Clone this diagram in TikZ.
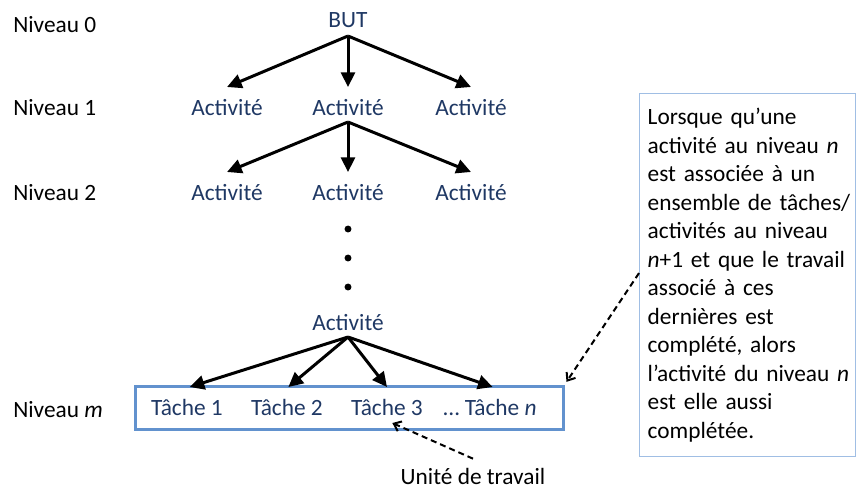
\documentclass[tikz,border=0pt]{standalone}
\usepackage{fontspec}
\setmainfont{Carlito}
\usetikzlibrary{arrows.meta,calc}
\definecolor{navy}{RGB}{31,56,100}
\definecolor{boxblue}{RGB}{98,146,206}
\definecolor{noteblue}{RGB}{160,190,228}
\hfuzz=50pt
\begin{document}
\begin{tikzpicture}[x=0.75pt,y=-0.75pt,
  every node/.style={font=\fontsize{17.5}{21.4}\selectfont},
  lvl/.style={anchor=west, inner sep=0, text=black},
  tree/.style={inner sep=0, text=navy},
  dotnode/.style={circle, fill=black, inner sep=0, minimum size=5.2pt},
  arr/.style={line width=2.25pt, -{Triangle[length=11pt,width=10.5pt]}},
  darr/.style={line width=1.5pt, dash pattern=on 4.5pt off 3pt, -{Straight Barb[length=5pt,width=8pt]}},
  taskbox/.style={draw=boxblue, line width=2.25pt, minimum width=321pt, minimum height=32.25pt, inner sep=0},
  notebox/.style={draw=noteblue, line width=1.1pt, anchor=north west, inner xsep=6pt, text width=150pt,
     minimum height=272pt, align=left, text=black}]
\useasboundingbox (0,0) rectangle (856,490);

% level labels
\node[lvl] (n0) at (13,25) {Niveau 0};
\node[lvl] (n1) at (13,108) {Niveau 1};
\node[lvl] (n2) at (13,193) {Niveau 2};
\node[lvl] (nm) at (13,410) {Niveau \textit{m}};

% tree
\node[tree] (but) at (348,20) {BUT};
\node[tree] (a11) at (227,108) {Activité};
\node[tree] (a12) at (348,108) {Activité};
\node[tree] (a13) at (471,108) {Activité};
\node[tree] (a21) at (227,193) {Activité};
\node[tree] (a22) at (348,193) {Activité};
\node[tree] (a23) at (471,193) {Activité};
\node[dotnode] (d1) at (348,229) {};
\node[dotnode] (d2) at (348,258) {};
\node[dotnode] (d3) at (348,287) {};
\node[tree] (a3) at (348,323) {Activité};

% task box
\node[taskbox] (box) at (349,407.5) {};
\node[tree] (t1) at (187,407) {Tâche 1};
\node[tree] (t2) at (287,407) {Tâche 2};
\node[tree] (t3) at (387,407) {Tâche 3};
\node[tree] (t4) at (490,407) {… Tâche \textit{n}};

% arrows
\draw[arr] ([yshift=-12pt]but.center) -- ([yshift=15.75pt]a11.center);
\draw[arr] ([yshift=-12pt]but.center) -- ([yshift=15.75pt]a12.center);
\draw[arr] ([yshift=-12pt]but.center) -- ([yshift=15.75pt]a13.center);
\draw[arr] ([yshift=-10.5pt]a12.center) -- ([yshift=15.75pt]a21.center);
\draw[arr] ([yshift=-10.5pt]a12.center) -- ([yshift=15.75pt]a22.center);
\draw[arr] ([yshift=-10.5pt]a12.center) -- ([yshift=15.75pt]a23.center);
\draw[arr] ([yshift=-10.5pt]a3.center) -- ([xshift=2pt,yshift=15pt]t1.center);
\draw[arr] ([yshift=-10.5pt]a3.center) -- ([xshift=1pt,yshift=15pt]t2.center);
\draw[arr] ([yshift=-10.5pt]a3.center) -- ([yshift=15pt]t3.center);
\draw[arr] ([yshift=-10.5pt]a3.center) -- ([xshift=2pt,yshift=15pt]t4.center);

% unit of work
\node[tree, text=black] (unit) at (473,476) {Unité de travail};
\draw[darr] ([yshift=13pt]unit.center) -- ([xshift=4pt,yshift=-12pt]t3.center);

% note
\node[notebox] (note) at (639,93) {\mbox{Lorsque qu’une}\\
\mbox{activité au niveau \textit{n}}\\
\mbox{est associée à un}\\
\mbox{ensemble de tâches/}\\
\mbox{activités au niveau}\\
\mbox{\textit{n}+1 et que le travail}\\
\mbox{associé à ces}\\
\mbox{dernières est}\\
\mbox{complété, alors}\\
\mbox{l’activité du niveau \textit{n}}\\
\mbox{est elle aussi}\\
\mbox{complétée.}};
\draw[darr] ([yshift=1.5pt]note.west) -- ([xshift=1.5pt,yshift=2pt]box.north east);
\end{tikzpicture}
\end{document}
